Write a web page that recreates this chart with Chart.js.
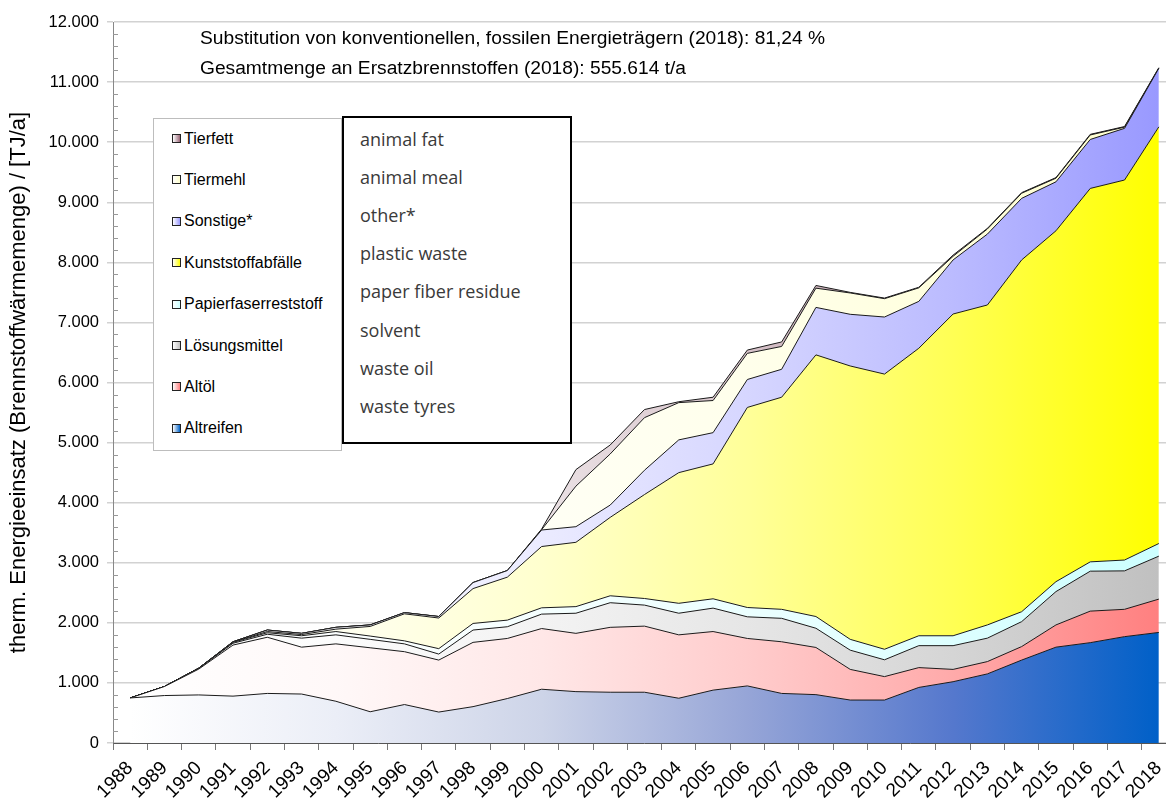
<!DOCTYPE html>
<html>
<head>
<meta charset="utf-8">
<script src="https://cdn.jsdelivr.net/npm/chart.js@4/dist/chart.umd.min.js"></script>
<style>
  html, body { margin: 0; padding: 0; background: #fff; width: 1166px; height: 804px; overflow: hidden; }
  #wrap { position: absolute; left: 0; top: 0; width: 1182px; height: 804px; }
  .box { position: absolute; background: #fff; box-sizing: border-box; }
  #legendDe { left: 153px; top: 118px; width: 189px; height: 333px; border: 1px solid #bdbdbd;
    font: 16px "Liberation Sans", Arial, sans-serif; color: #000; }
  #legendEn { left: 342px; top: 116px; width: 230px; height: 328px; border: 2px solid #000;
    font: 18px "Open Sans", sans-serif; color: #3a3a3a; }
  .row { position: absolute; display: flex; align-items: center; height: 20px; white-space: nowrap; }
  .sw { width: 7px; height: 7px; border: 1px solid #222; margin-right: 3px; }
</style>
</head>
<body>
<div id="wrap">
  <canvas id="chart" width="1182" height="804"></canvas>
  <div id="legendDe" class="box"></div>
  <div id="legendEn" class="box"></div>
</div>
<script>
const years = [];
for (let y = 1988; y <= 2018; y++) years.push(String(y));

// TJ/a per fuel type
const altreifen = [750, 790, 800, 780, 825, 815, 695, 520, 640, 515, 605, 740, 895, 855, 845, 845, 745, 880, 950, 825, 805, 715, 715, 925, 1020, 1150, 1380, 1595, 1670, 1770, 1840];
const altoel = [0, 150, 430, 850, 935, 780, 955, 1065, 880, 865, 1070, 1000, 1010, 970, 1080, 1100, 1055, 975, 790, 860, 785, 510, 390, 330, 205, 205, 225, 370, 525, 455, 555];
const loesungsmittel = [0, 0, 10, 30, 50, 150, 150, 140, 130, 100, 205, 195, 240, 335, 410, 350, 360, 390, 360, 390, 320, 320, 280, 365, 395, 390, 415, 555, 665, 640, 715];
const papierfaser = [0, 0, 5, 15, 25, 40, 55, 55, 50, 90, 110, 110, 105, 110, 115, 110, 165, 155, 155, 150, 195, 180, 175, 165, 165, 220, 165, 165, 155, 180, 210];
const kunststoff = [0, 0, 0, 5, 20, 20, 40, 160, 450, 510, 580, 715, 1020, 1070, 1305, 1730, 2175, 2245, 3330, 3530, 4355, 4550, 4580, 4785, 5355, 5325, 5855, 5840, 6215, 6325, 6935];
const sonstige = [0, 0, 0, 5, 25, 20, 30, 25, 20, 25, 100, 110, 275, 260, 205, 405, 545, 520, 465, 465, 790, 860, 950, 780, 900, 1180, 1025, 815, 815, 860, 975];
const tiermehl = [0, 0, 0, 0, 0, 0, 0, 0, 0, 0, 0, 0, 5, 675, 850, 875, 620, 535, 435, 380, 320, 355, 305, 225, 60, 85, 85, 60, 75, 20, 0];
const tierfett = [0, 0, 0, 0, 0, 0, 0, 0, 0, 0, 0, 0, 10, 275, 150, 135, 15, 55, 55, 75, 45, 10, 10, 10, 20, 10, 10, 10, 10, 10, 10];

const seriesNames = ["Altreifen", "Altöl", "Lösungsmittel", "Papierfaserreststoff", "Kunststoffabfälle", "Sonstige*", "Tiermehl", "Tierfett"];
const englishNames = ["waste tyres", "waste oil", "solvent", "paper fiber residue", "plastic waste", "other*", "animal meal", "animal fat"];
const seriesColors = ["#0062C8", "#FF8080", "#C0C0C0", "#CCFFFF", "#FFFF00", "#9999FF", "#FFFFCC", "#996677"];
const seriesData = [altreifen, altoel, loesungsmittel, papierfaser, kunststoff, sonstige, tiermehl, tierfett];

const notes = [
    "Substitution von konventionellen, fossilen Energieträgern (2018): 81,24 %",
    "Gesamtmenge an Ersatzbrennstoffen (2018): 555.614 t/a"
];
const yMax = 12000;

// the blue fill goes through greyish lavender tones in the original
const blueStops = ["#ffffff", "#ebeef7", "#cdd4e8", "#96a5d7", "#5578cd", "#0060c8"];

function mix(hex, f) {
    const n = parseInt(hex.slice(1), 16);
    const c = [n >> 16, (n >> 8) & 255, n & 255].map(v => Math.round(255 + (v - 255) * f));
    return `rgb(${c[0]},${c[1]},${c[2]})`;
}

// white -> colour, left to right, like the Excel gradient fill
function areaFill(color, i) {
    return ctx => {
        const chart = ctx.chart;
        const x = chart.scales.x;
        if (!chart.chartArea || !x) return color;
        const x0 = x.getPixelForValue(0);
        const x1 = x.getPixelForValue(years.length - 1);
        const g = chart.ctx.createLinearGradient(x0, 0, x1, 0);
        [0, 0.2, 0.4, 0.6, 0.8, 1].forEach((t, k) =>
            g.addColorStop(t, i === 0 ? blueStops[k] : mix(color, Math.pow(t, 1.8))));
        return g;
    };
}

function fmt(v) {
    return String(v).replace(/\B(?=(\d{3})+(?!\d))/g, ".");
}

const extras = {
    id: "extras",
    afterDraw(chart) {
        const {ctx} = chart;
        const y = chart.scales.y;
        ctx.save();
        ctx.strokeStyle = "#999";
        ctx.lineWidth = 1;
        for (let v = 200; v < yMax; v += 200) {
            if (v % 1000 === 0) continue;
            const py = Math.round(y.getPixelForValue(v)) + 0.5;
            ctx.beginPath();
            ctx.moveTo(y.right, py);
            ctx.lineTo(y.right + 5, py);
            ctx.stroke();
        }
        ctx.font = '19.2px "Liberation Sans", Arial, sans-serif';
        ctx.fillStyle = "#000";
        ctx.textBaseline = "middle";
        notes.forEach((t, i) => ctx.fillText(t, 200, 39 + i * 30));
        ctx.restore();
    }
};

const datasets = seriesNames.map((name, i) => ({
    label: name,
    data: seriesData[i],
    backgroundColor: areaFill(seriesColors[i], i),
    borderColor: "#1a1a1a",
    borderWidth: 1,
    pointRadius: 0,
    tension: 0,
    fill: i === 0 ? "origin" : "-1"
}));

const chart = new Chart(document.getElementById("chart"), {
    type: "line",
    data: {labels: years, datasets},
    plugins: [extras],
    options: {
        responsive: false,
        animation: false,
        devicePixelRatio: 1,
        layout: {padding: {top: 22, right: 3, left: 0, bottom: 0}},
        plugins: {legend: {display: false}, tooltip: {enabled: false}},
        scales: {
            x: {
                offset: true,
                grid: {offset: true, drawOnChartArea: false, tickLength: 7, color: "#777"},
                border: {color: "#555", width: 1},
                ticks: {
                    minRotation: 45, maxRotation: 45, autoSkip: false, padding: 7,
                    color: "#000", font: {family: "Liberation Sans", size: 19}
                },
                afterFit: s => { s.height = 61; }
            },
            y: {
                stacked: true,
                min: 0,
                max: yMax,
                ticks: {
                    stepSize: 1000, padding: 8, color: "#000",
                    font: {family: "Liberation Sans", size: 16.5},
                    callback: v => fmt(v)
                },
                grid: {color: "#d2d2d2", lineWidth: 1.5, tickLength: 6},
                border: {color: "#888", width: 1},
                title: {
                    display: true,
                    text: "therm. Energieeinsatz (Brennstoffwärmemenge) / [TJ/a]",
                    color: "#000",
                    font: {family: "Liberation Sans", size: 22},
                    padding: {top: 6, bottom: 0}
                },
                afterFit: s => { s.width = 113; }
            }
        }
    }
});

// legends: reverse order so the top layer is listed first
const de = document.getElementById("legendDe");
const en = document.getElementById("legendEn");
for (let k = 0; k < seriesNames.length; k++) {
    const i = seriesNames.length - 1 - k;
    const r = document.createElement("div");
    r.className = "row";
    r.style.left = "18px";
    r.style.top = (19.5 + k * 41.4 - 10) + "px";
    r.innerHTML = `<span class="sw" style="background:linear-gradient(to right,#fff,${seriesColors[i]})"></span><span></span>`;
    r.lastChild.textContent = seriesNames[i];
    de.appendChild(r);

    const e = document.createElement("div");
    e.className = "row";
    e.style.left = "16px";
    e.style.top = (21 + k * 38.1 - 10) + "px";
    e.textContent = englishNames[i];
    en.appendChild(e);
}
</script>
</body>
</html>
